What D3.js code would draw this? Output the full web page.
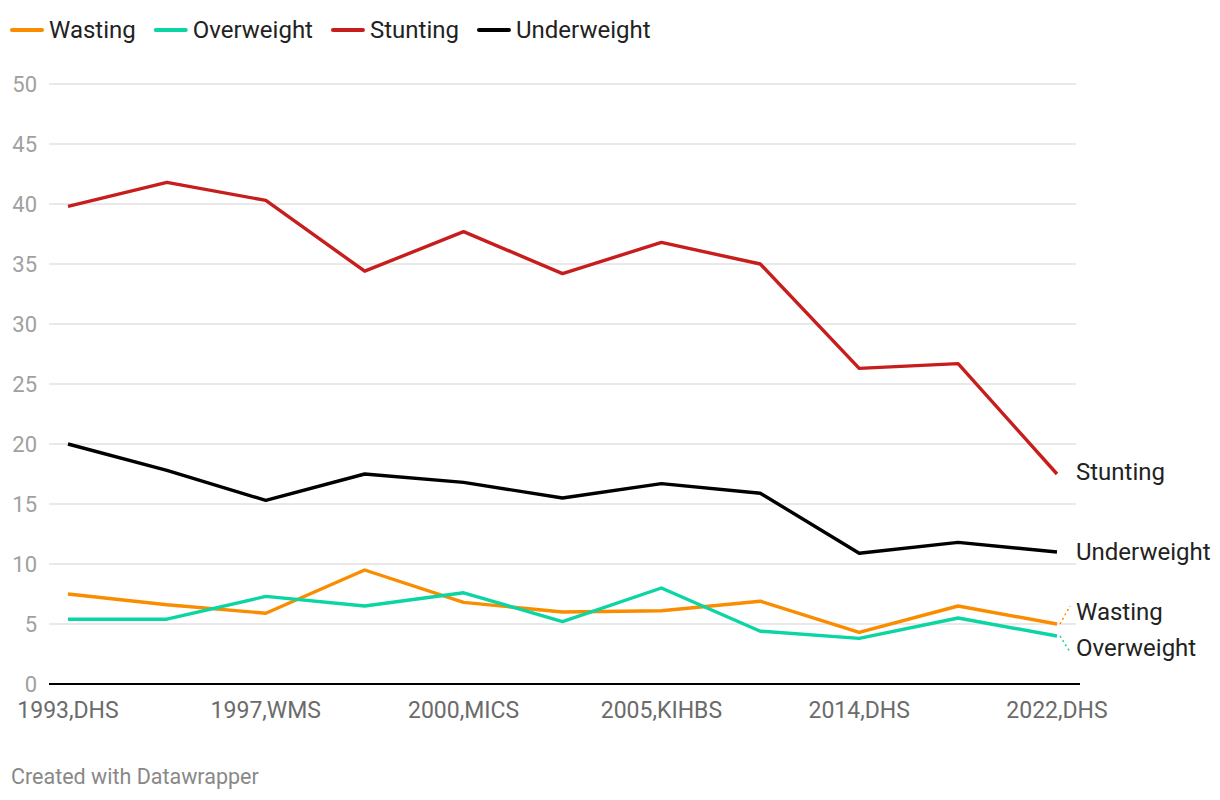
<!DOCTYPE html>
<html><head><meta charset="utf-8">
<script src="https://cdn.jsdelivr.net/npm/d3@7"></script>
<style>body{margin:0;background:#fff;font-family:Roboto,sans-serif;}</style>
</head><body>
<svg id="chart" width="1220" height="800"></svg>
<script>
const categories = ["1993,DHS","1995,WMS","1997,WMS","1998,DHS","2000,MICS","2003,DHS","2005,KIHBS","2008,DHS","2014,DHS","2019,KIHBS","2022,DHS"];
const shownLabels = ["1993,DHS","1997,WMS","2000,MICS","2005,KIHBS","2014,DHS","2022,DHS"];
const wasting     = [7.5, 6.6, 5.9, 9.5, 6.8, 6.0, 6.1, 6.9, 4.3, 6.5, 5.0];
const overweight  = [5.4, 5.4, 7.3, 6.5, 7.6, 5.2, 8.0, 4.4, 3.8, 5.5, 4.0];
const stunting    = [39.8, 41.8, 40.3, 34.4, 37.7, 34.2, 36.8, 35.0, 26.3, 26.7, 17.5];
const underweight = [20.0, 17.8, 15.3, 17.5, 16.8, 15.5, 16.7, 15.9, 10.9, 11.8, 11.0];
const yTicks = [0,5,10,15,20,25,30,35,40,45,50];

const series = [
  {name:"Wasting", values:wasting, color:"#fa8c00", labelY:612, connector:true},
  {name:"Overweight", values:overweight, color:"#0bd5a3", labelY:648, connector:true},
  {name:"Stunting", values:stunting, color:"#c71e1d", labelY:472},
  {name:"Underweight", values:underweight, color:"#000000", labelY:552}
];

const svg = d3.select("#chart");
const x = d3.scalePoint().domain(categories).range([68, 1057]);
const y = d3.scaleLinear().domain([0,50]).range([684, 84]);

// grid
const g = svg.append("g");
g.selectAll("line.grid").data(yTicks.filter(d=>d>0)).join("line")
  .attr("x1",49).attr("x2",1076)
  .attr("y1",d=>y(d)).attr("y2",d=>y(d))
  .attr("stroke","#e2e2e2").attr("stroke-width",1.5);
g.selectAll("text.yt").data(yTicks).join("text")
  .attr("x",37).attr("y",d=>y(d)).attr("dy","0.35em")
  .attr("text-anchor","end").attr("fill","#a0a0a0")
  .attr("font-size",22).text(d=>d);

// x labels
g.selectAll("text.xt").data(shownLabels).join("text")
  .attr("x",d=>x(d)).attr("y",710).attr("dy","0.35em")
  .attr("text-anchor","middle").attr("fill","#6b6b6b")
  .attr("font-size",23).text(d=>d);

const line = d3.line().x((d,i)=>x(categories[i])).y(d=>y(d));

series.forEach(s=>{
  svg.append("path").attr("d",line(s.values))
    .attr("fill","none").attr("stroke",s.color).attr("stroke-width",3.4)
    .attr("stroke-linejoin","round").attr("stroke-linecap","butt");
  const last = s.values[s.values.length-1];
  if(s.connector){
    svg.append("line").attr("x1",x(categories[categories.length-1])+3).attr("y1",y(last))
      .attr("x2",1070).attr("y2",s.labelY+ (s.name==="Wasting"?-6:4))
      .attr("stroke",s.color).attr("stroke-width",1.5).attr("stroke-dasharray","2,3");
  }
  svg.append("text").attr("x",1076).attr("y",s.labelY).attr("dy","0.35em")
    .attr("font-size",24).attr("fill","#222").text(s.name);
});

// baseline
svg.append("line").attr("x1",49).attr("x2",1080).attr("y1",y(0)).attr("y2",y(0))
  .attr("stroke","#000").attr("stroke-width",2);

// legend
let lx = 12;
series.forEach(s=>{
  const gg = svg.append("g");
  gg.append("line").attr("x1",lx).attr("x2",lx+30).attr("y1",30).attr("y2",30)
    .attr("stroke",s.color).attr("stroke-width",4).attr("stroke-linecap","round");
  const t = gg.append("text").attr("x",lx+37).attr("y",30).attr("dy","0.35em")
    .attr("font-size",24).attr("fill","#222").text(s.name);
  lx += 37 + t.node().getComputedTextLength() + 20;
});

svg.append("text").attr("x",11).attr("y",776).attr("dy","0.35em")
  .attr("font-size",21.5).attr("fill","#888").text("Created with Datawrapper");
</script>
</body></html>
